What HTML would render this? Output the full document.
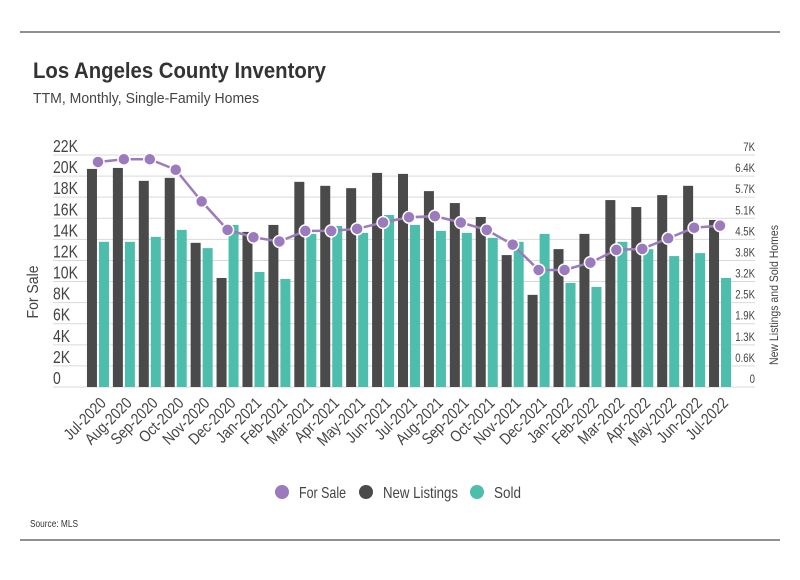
<!DOCTYPE html>
<html><head><meta charset="utf-8"><style>
body{margin:0;background:#fff;}
svg text{font-family:"Liberation Sans",sans-serif;}
</style></head><body>
<svg width="800" height="575" xmlns="http://www.w3.org/2000/svg">
<line x1="20" y1="32" x2="780" y2="32" stroke="#222" stroke-width="1"/>
<line x1="20" y1="540" x2="780" y2="540" stroke="#222" stroke-width="1"/>
<text x="33" y="78" font-size="22" font-weight="bold" fill="#333" textLength="293" lengthAdjust="spacingAndGlyphs">Los Angeles County Inventory</text>
<text x="33" y="103" font-size="15" fill="#444" textLength="226" lengthAdjust="spacingAndGlyphs">TTM, Monthly, Single-Family Homes</text>
<text x="30" y="527" font-size="10" fill="#333" textLength="48" lengthAdjust="spacingAndGlyphs">Source:  MLS</text>
<text transform="translate(38,292) rotate(-90)" text-anchor="middle" font-size="16" fill="#444" textLength="53" lengthAdjust="spacingAndGlyphs">For Sale</text>
<text transform="translate(778,295) rotate(-90)" text-anchor="middle" font-size="12" fill="#444" textLength="140" lengthAdjust="spacingAndGlyphs">New Listings and Sold Homes</text>
<g id="grid"></g><g id="bars"></g><g id="line"></g><g id="xlabels"></g>
<g>
<circle cx="282" cy="492" r="7" fill="#9b7bbd"/>
<text x="299" y="498" font-size="16" fill="#444" textLength="47" lengthAdjust="spacingAndGlyphs">For Sale</text>
<circle cx="366" cy="492" r="7" fill="#4a4a4a"/>
<text x="383" y="498" font-size="16" fill="#444" textLength="75" lengthAdjust="spacingAndGlyphs">New Listings</text>
<circle cx="477" cy="492" r="7" fill="#4dbdac"/>
<text x="494" y="498" font-size="16" fill="#444" textLength="27" lengthAdjust="spacingAndGlyphs">Sold</text>
</g>
</svg>
<script>
const categories=["Jul-2020","Aug-2020","Sep-2020","Oct-2020","Nov-2020","Dec-2020","Jan-2021","Feb-2021","Mar-2021","Apr-2021","May-2021","Jun-2021","Jul-2021","Aug-2021","Sep-2021","Oct-2021","Nov-2021","Dec-2021","Jan-2022","Feb-2022","Mar-2022","Apr-2022","May-2022","Jun-2022","Jul-2022"];
const forSale=[21340,21600,21600,20600,17600,14900,14200,13800,14800,14800,15000,15600,16100,16200,15600,14900,13500,11100,11100,11800,13000,13100,14100,15100,15300];
const newListings=[6580,6610,6220,6310,4350,3290,4680,4890,6190,6070,6000,6460,6430,5910,5550,5130,3980,2780,4160,4620,5640,5430,5790,6070,5040];
const sold=[4380,4380,4530,4740,4190,4890,3470,3260,4620,4860,4650,5190,4890,4710,4650,4500,4380,4620,3140,3020,4380,4160,3950,4040,3290];
const leftTicks=["0","2K","4K","6K","8K","10K","12K","14K","16K","18K","20K","22K"];
const rightTicks=["0","0.6K","1.3K","1.9K","2.5K","3.2K","3.8K","4.5K","5.1K","5.7K","6.4K","7K"];
const NS="http://www.w3.org/2000/svg";
const y0=387,yTop=155,leftMax=22000,rightMax=7000;
const yL=v=>y0-(v/leftMax)*(y0-yTop);
const yR=v=>y0-(v/rightMax)*(y0-yTop);
const band=25.92,x0=85;
const xC=i=>x0+band*(i+0.5);
function mk(tag,attrs,parent){const e=document.createElementNS(NS,tag);for(const k in attrs)e.setAttribute(k,attrs[k]);parent.appendChild(e);return e;}
const grid=document.getElementById('grid');
leftTicks.forEach((t,i)=>{
 const y=y0-i*(y0-yTop)/(leftTicks.length-1);
 const l=mk('line',{x1:53,x2:755,y1:y,y2:y,stroke:'#d9d9d9','stroke-width':1},grid);
 
 
 const a=mk('text',{transform:`translate(53,${y-3}) scale(0.78,1)`,'font-size':18,fill:'#444'},grid);a.textContent=t;
 
 
 const b=mk('text',{transform:`translate(755,${y-4}) scale(0.8,1)`,'font-size':12,fill:'#444','text-anchor':'end'},grid);b.textContent=rightTicks[i];
 
 
});
const bars=document.getElementById('bars');
categories.forEach((c,i)=>{
 const cx=xC(i);
 const d=mk('rect',{x:cx-11,y:yR(newListings[i]),width:10,height:y0-yR(newListings[i]),fill:'#4a4a4a'},bars);
 
 
 const s=mk('rect',{x:cx+1,y:yR(sold[i]),width:10,height:y0-yR(sold[i]),fill:'#4dbdac'},bars);
 
 
 const t=mk('text',{transform:`translate(${cx+9},404) rotate(-45) scale(0.85,1)`,'text-anchor':'end','font-size':16,fill:'#444'},document.getElementById('xlabels'));
 t.textContent=c;
 
 
});
const line=document.getElementById('line');
const p=mk('polyline',{points:forSale.map((v,i)=>xC(i)+','+yL(v)).join(' '),fill:'none',stroke:'#9b7bbd','stroke-width':2.5},line);


forSale.forEach((v,i)=>{
 const c=mk('circle',{cx:xC(i),cy:yL(v),r:6,fill:'#9b7bbd',stroke:'#fff','stroke-width':1.5},line);
 
 
});
</script>
</body></html>
